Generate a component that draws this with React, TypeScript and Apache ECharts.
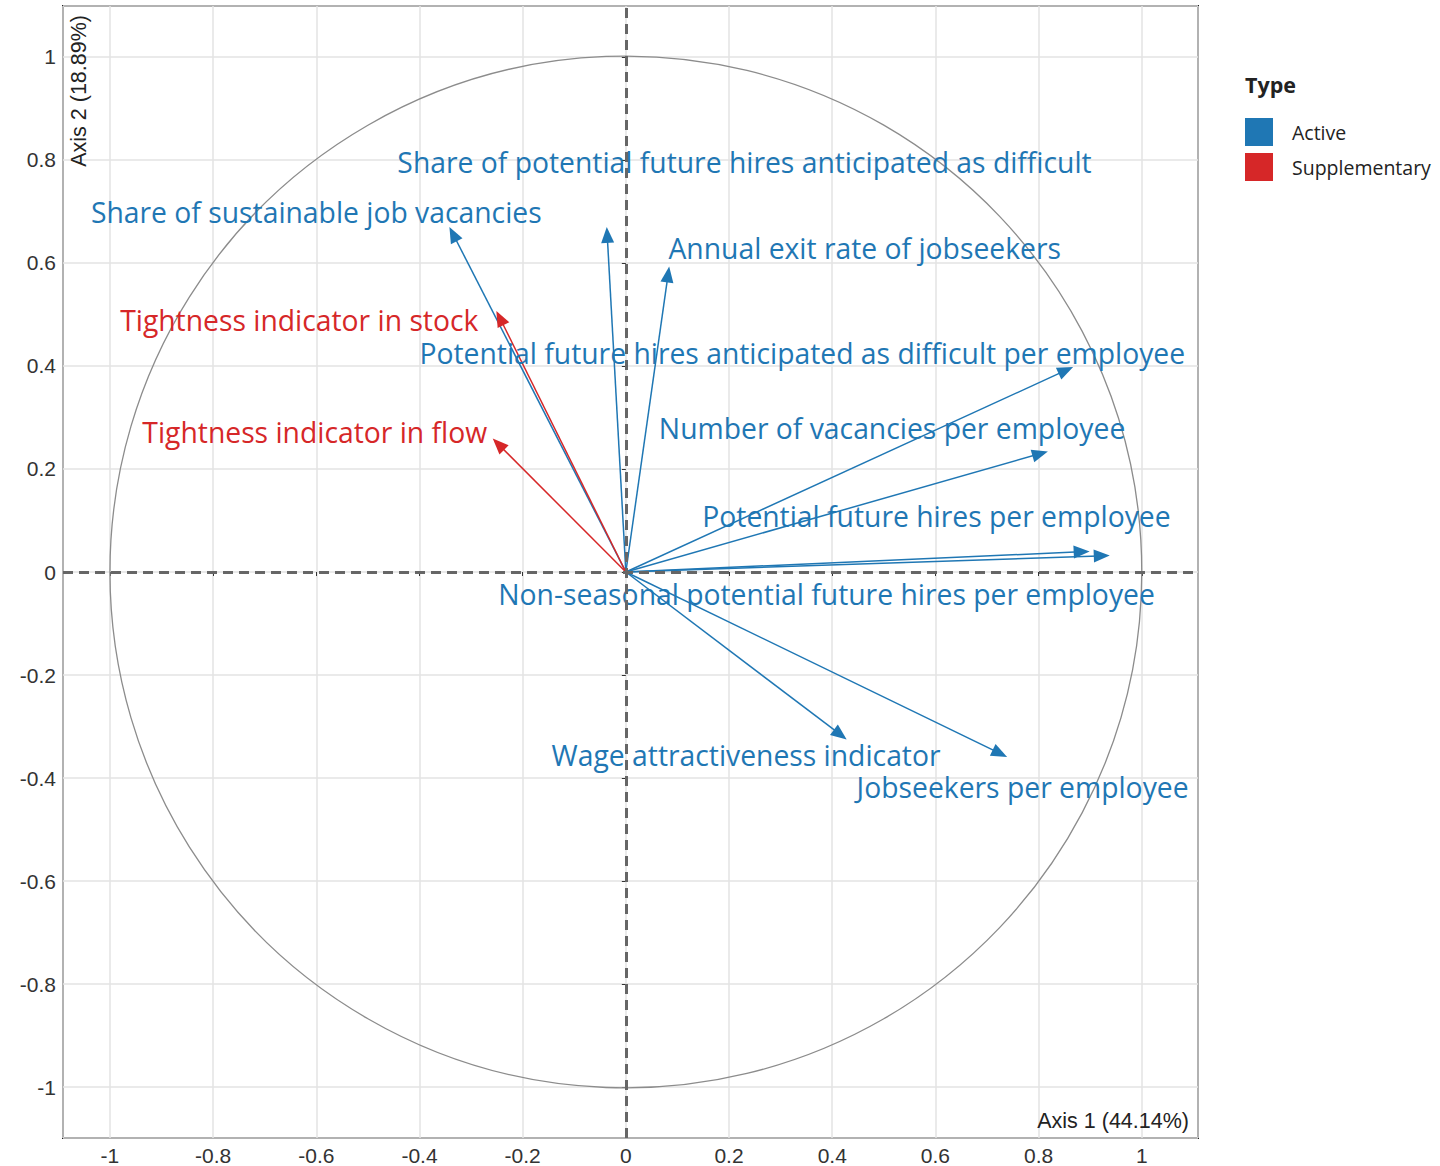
import React, { useEffect, useRef } from "react";
import * as echarts from "echarts";

// Active variables: arrow tips (PCA coordinates) and label anchor points
const activeNames = [
  "Share of sustainable job vacancies",
  "Share of potential future hires anticipated as difficult",
  "Annual exit rate of jobseekers",
  "Potential future hires anticipated as difficult per employee",
  "Number of vacancies per employee",
  "Potential future hires per employee",
  "Non-seasonal potential future hires per employee",
  "Wage attractiveness indicator",
  "Jobseekers per employee",
];
const activeX = [-0.342, -0.037, 0.084, 0.867, 0.818, 0.899, 0.938, 0.428, 0.739];
const activeY = [0.67, 0.67, 0.593, 0.398, 0.234, 0.04, 0.032, -0.325, -0.359];
const activeLabelX = [-0.6, 0.23, 0.463, 0.342, 0.516, 0.602, 0.389, 0.233, 0.769];
const activeLabelY = [0.699, 0.797, 0.63, 0.425, 0.28, 0.108, -0.042, -0.356, -0.418];

// Supplementary variables
const suppNames = ["Tightness indicator in stock", "Tightness indicator in flow"];
const suppX = [-0.251, -0.258];
const suppY = [0.507, 0.259];
const suppLabelX = [-0.633, -0.603];
const suppLabelY = [0.489, 0.271];

// Correlation circle: centre x, centre y, radius
const circleData = [[0, 0, 1]];

const typeNames = ["Active", "Supplementary"];
const axis1Title = "Axis 1 (44.14%)";
const axis2Title = "Axis 2 (18.89%)";
const legendTitle = "Type";

const BLUE = "#1F77B4";
const RED = "#D62728";

function makeArrowRender(names: string[], lx: number[], ly: number[], color: string) {
  return (params: any, api: any) => {
    const i = params.dataIndex;
    const x = api.value(0);
    const y = api.value(1);
    const o = api.coord([0, 0]);
    const p = api.coord([x, y]);
    const dx = p[0] - o[0];
    const dy = p[1] - o[1];
    const len = Math.hypot(dx, dy) || 1;
    const ux = dx / len;
    const uy = dy / len;
    const hl = 16;
    const hw = 6.5;
    const bx = p[0] - ux * hl;
    const by = p[1] - uy * hl;
    const lp = api.coord([lx[i], ly[i]]);
    return {
      type: "group",
      children: [
        {
          type: "line",
          shape: { x1: o[0], y1: o[1], x2: p[0] - ux * 4, y2: p[1] - uy * 4 },
          style: { stroke: color, lineWidth: 1.5 },
        },
        {
          type: "polygon",
          shape: {
            points: [
              [p[0], p[1]],
              [bx - uy * hw, by + ux * hw],
              [bx + uy * hw, by - ux * hw],
            ],
          },
          style: { fill: color },
        },
        {
          type: "text",
          x: lp[0],
          y: lp[1],
          z2: 100,
          style: {
            text: names[i],
            fill: color,
            fontSize: 28.3,
            fontFamily: "Open Sans",
            align: "center",
            verticalAlign: "middle",
          },
        },
      ],
    };
  };
}

export default function App() {
  const ref = useRef<HTMLDivElement>(null);

  useEffect(() => {
    if (!ref.current) return;
    const chart = echarts.init(ref.current, undefined, { renderer: "svg" });

    const axisCommon = {
      type: "value",
      minInterval: 0.2,
      maxInterval: 0.2,
      axisLine: { show: false },
      axisTick: { show: true, length: 4, lineStyle: { color: "#333", width: 1 } },
      axisLabel: {
        show: true,
        margin: 7,
        color: "#333",
        fontSize: 21,
        fontFamily: "Liberation Sans",
        showMinLabel: false,
        showMaxLabel: false,
      },
      splitLine: { show: true, lineStyle: { color: "#E3E3E3", width: 1.5 } },
    };

    chart.setOption({
      animation: false,
      backgroundColor: "#fff",
      grid: {
        left: 63,
        top: 6,
        right: 242,
        bottom: 25,
        show: true,
        borderColor: "#222",
        borderWidth: 2,
        backgroundColor: "transparent",
      },
      xAxis: { ...axisCommon, min: -1.091, max: 1.109 },
      yAxis: { ...axisCommon, min: -1.099, max: 1.099 },
      legend: {
        show: true,
        orient: "vertical",
        left: 1245,
        top: 118,
        padding: 0,
        itemWidth: 28,
        itemHeight: 28,
        itemGap: 7,
        icon: "rect",
        data: typeNames,
        textStyle: {
          fontSize: 19.5,
          fontFamily: "Open Sans",
          color: "#222",
          padding: [6, 0, 0, 14],
        },
      },
      graphic: [
        {
          type: "text",
          left: 1245,
          top: 73,
          style: {
            text: legendTitle,
            fontSize: 21.5,
            fontWeight: "bold",
            fontFamily: "Open Sans",
            fill: "#222",
          },
        },
        {
          type: "text",
          x: 79,
          y: 15,
          rotation: Math.PI / 2,
          z: 10,
          style: {
            text: axis2Title,
            fontSize: 21.5,
            fontFamily: "Liberation Sans",
            fill: "#222",
            align: "right",
            verticalAlign: "middle",
          },
        },
        {
          type: "text",
          x: 1189,
          y: 1121,
          z: 10,
          style: {
            text: axis1Title,
            fontSize: 21.5,
            fontFamily: "Liberation Sans",
            fill: "#222",
            align: "right",
            verticalAlign: "middle",
          },
        },
      ],
      series: [
        {
          type: "custom",
          name: "circle",
          z: 1,
          silent: true,
          data: circleData,
          renderItem: (params: any, api: any) => {
            const c = api.coord([api.value(0), api.value(1)]);
            const r = api.size([api.value(2), 0])[0];
            return {
              type: "circle",
              shape: { cx: c[0], cy: c[1], r },
              style: { fill: "none", stroke: "#8C8C8C", lineWidth: 1.3 },
            };
          },
          markLine: {
            silent: true,
            symbol: "none",
            label: { show: false },
            lineStyle: { color: "#666", type: [10, 6], width: 3 },
            data: [{ xAxis: 0 }, { yAxis: 0 }],
          },
        },
        {
          type: "custom",
          name: typeNames[0],
          z: 3,
          silent: true,
          itemStyle: { color: BLUE },
          data: activeX.map((v, i) => [v, activeY[i]]),
          renderItem: makeArrowRender(activeNames, activeLabelX, activeLabelY, BLUE),
        },
        {
          type: "custom",
          name: typeNames[1],
          z: 3,
          silent: true,
          itemStyle: { color: RED },
          data: suppX.map((v, i) => [v, suppY[i]]),
          renderItem: makeArrowRender(suppNames, suppLabelX, suppLabelY, RED),
        },
      ],
    });

    return () => chart.dispose();
  }, []);

  return (
    <div
      ref={ref}
      style={{ position: "absolute", left: 0, top: 0, width: 1440, height: 1166 }}
    />
  );
}
